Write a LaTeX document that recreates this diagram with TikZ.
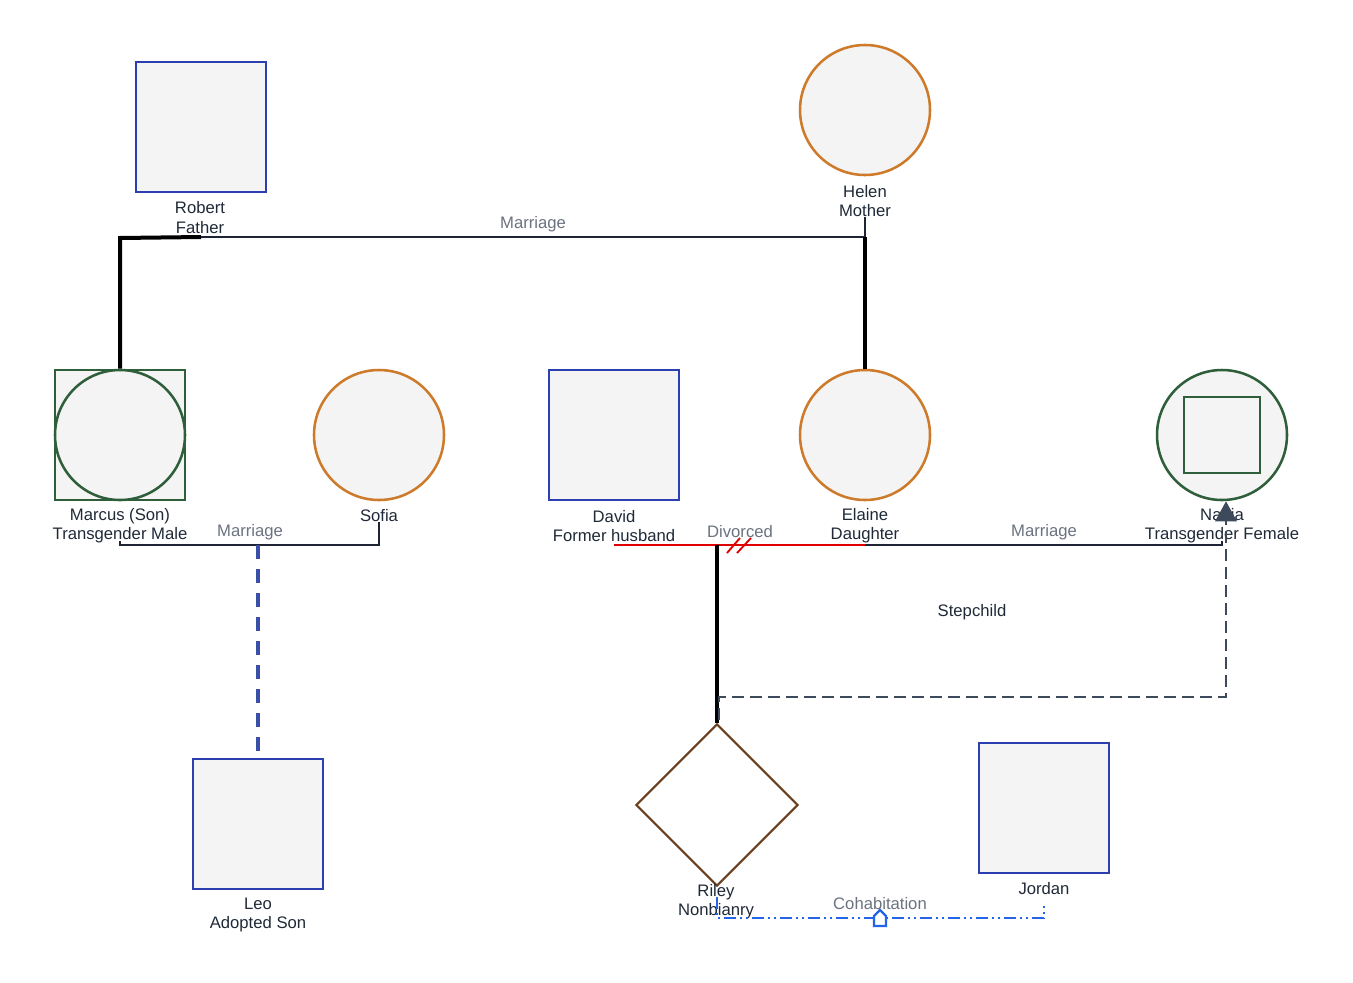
\documentclass[tikz,border=0pt]{standalone}
\usepackage{fontspec}
\setmainfont{Liberation Sans}
\usetikzlibrary{shapes.geometric,arrows.meta}
\definecolor{maleblue}{RGB}{43,63,176}
\definecolor{femaleorange}{RGB}{205,122,42}
\definecolor{transgreen}{RGB}{47,94,58}
\definecolor{nbbrown}{RGB}{107,62,30}
\definecolor{symfill}{RGB}{244,244,244}
\definecolor{txtdark}{RGB}{31,41,55}
\definecolor{relgray}{RGB}{107,114,128}
\definecolor{linedark}{RGB}{30,36,51}
\definecolor{divred}{RGB}{224,0,0}
\definecolor{adoptblue}{RGB}{59,79,168}
\definecolor{stepgray}{RGB}{61,74,92}
\definecolor{cohabblue}{RGB}{37,99,235}
\begin{document}
\begin{tikzpicture}[x=0.75pt, y=-0.75pt,
  every node/.style={font=\fontsize{12.5pt}{14.5pt}\selectfont, text=txtdark},
  male/.style={draw=maleblue, fill=symfill, line width=1.9pt, minimum size=97.5pt, inner sep=0},
  female/.style={circle, draw=femaleorange, fill=symfill, line width=1.9pt, minimum size=97.5pt, inner sep=0},
  trans/.style={draw=transgreen, line width=1.9pt, inner sep=0},
  who/.style={align=center, inner sep=0},
  rellabel/.style={text=relgray, inner sep=0},
  couple/.style={draw=linedark, line width=1.6pt},
  descent/.style={draw=black, line width=3pt}]
\useasboundingbox (0,0) rectangle (1353,982);

% people
\node[male] (robert) at (201,127) {};
\node[who] (robertlbl) at (200,217.5) {Robert\\Father};
\node[female] (helen) at (865,110) {};
\node[who] (helenlbl) at (865,201) {Helen\\Mother};

\node[trans, fill=symfill, minimum size=97.5pt] (marcus) at (120,435) {};
\node[trans, circle, minimum size=97.5pt] (marcusc) at (120,435) {};
\node[who] (marcuslbl) at (120,526) {Marcus (Son)\\Transgender Male};
\node[female] (sofia) at (379,435) {};
\node[who] (sofialbl) at (379,516) {Sofia};
\node[male] (david) at (614,435) {};
\node[who] (davidlbl) at (614,526) {David\\Former husband};
\node[female] (elaine) at (865,435) {};
\node[who] (elainelbl) at (865,526) {Elaine\\Daughter};
\node[trans, circle, fill=symfill, minimum size=97.5pt] (nadia) at (1222,435) {};
\node[trans, minimum size=57pt] (nadiasq) at (1222,435) {};
\node[who] (nadialbl) at (1222,526) {Nadia\\Transgender Female};

\node[male] (leo) at (258,824) {};
\node[who] (leolbl) at (258,915) {Leo\\Adopted Son};
\node[diamond, draw=nbbrown, fill=white, line width=1.6pt, aspect=1, minimum size=121.5pt, inner sep=0] (riley) at (717,805) {};
\node[who] (rileylbl) at (716,902) {Riley\\Nonbianry};
\node[male] (jordan) at (1044,808) {};
\node[who] (jordanlbl) at (1044,889) {Jordan};

% relationship lines
\coordinate (m1a) at (201,237);
\coordinate (m1b) at (865,237);
\coordinate (m1c) at (120,238);
\draw[couple] (m1a) -- (m1b) -- (helenlbl.south);
\node[rellabel] (m1lbl) at (533,224) {Marriage};
\draw[descent] (m1a) -- (m1c) -- (marcus.north);
\draw[descent] (m1b) -- (elaine.north);

\coordinate (m2a) at (120,545);
\coordinate (m2b) at (379,545);
\coordinate (m2c) at (258,545);
\draw[couple] (120,541) -- (m2a) -- (m2b) -- (sofialbl.south);
\node[rellabel] (m2lbl) at (250,532) {Marriage};
\draw[adoptblue, line width=2.4pt, dash pattern=on 10.5pt off 7.5pt] (m2c) -- (leo.north);

\coordinate (d1a) at (614,545);
\coordinate (d1b) at (865,545);
\coordinate (d1c) at (717,545);
\draw[divred, line width=1.7pt] (d1a) -- (d1b);
\draw[divred, line width=1.4pt] (727,553) -- (740,538) (737,553) -- (751,538);
\node[rellabel] (d1lbl) at (740,532) {Divorced};
\draw[descent] (d1c) -- (riley.north);

\coordinate (m3a) at (865,545);
\coordinate (m3b) at (1222,545);
\draw[couple] (m3a) -- (m3b) -- (1222,541);
\node[rellabel] (m3lbl) at (1044,532) {Marriage};

\coordinate (s1a) at (719,720);
\coordinate (s1b) at (1226,697);
\draw[stepgray, line width=1.8pt, dash pattern=on 9pt off 4.5pt, -{Triangle[length=15pt, width=16pt]}] (s1a) |- (s1b) -- (nadia.south -| s1b);
\node (s1lbl) at (972,612) {Stepchild};

\coordinate (c1a) at (717,897);
\coordinate (c1b) at (1044,905);
\draw[cohabblue, line width=1.8pt, dash pattern=on 9pt off 3pt on 1.5pt off 3pt on 1.5pt off 3pt] (c1a) |- (880,918) -| (c1b);
\node[rellabel] (c1lbl) at (880,904) {Cohabitation};
\draw[cohabblue, fill=white, line width=1.8pt] (874,926) -- (874,916) -- (880,910) -- (886,916) -- (886,926) -- cycle;
\end{tikzpicture}
\end{document}
